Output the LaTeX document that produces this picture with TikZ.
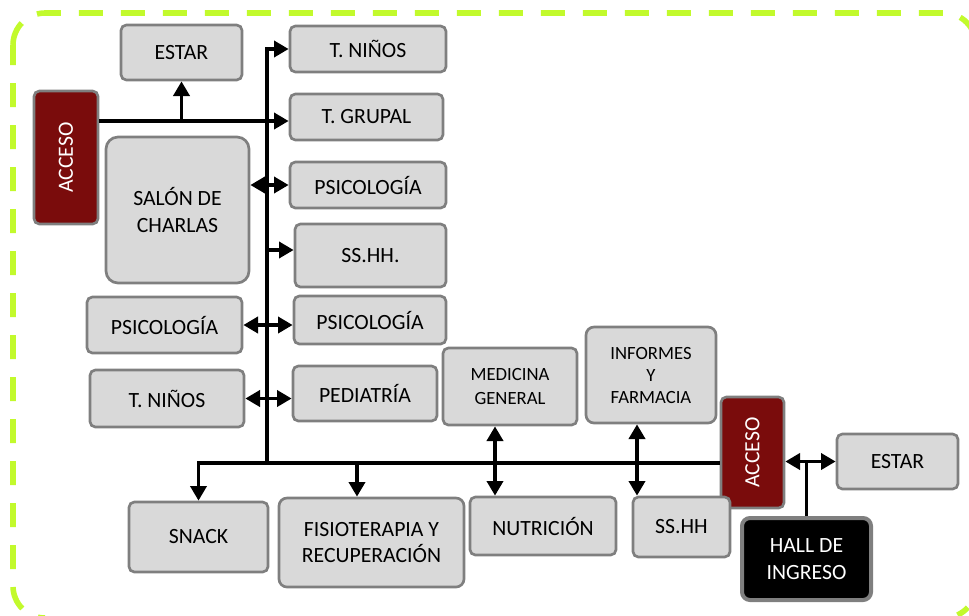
\documentclass[tikz,border=0pt]{standalone}
\usepackage{fontspec}
\setmainfont{Carlito}
\usetikzlibrary{arrows.meta}
\definecolor{boxfill}{RGB}{217,217,217}
\definecolor{boxline}{RGB}{127,127,127}
\definecolor{accred}{RGB}{122,12,12}
\definecolor{framelime}{RGB}{194,250,44}
\begin{document}
\begin{tikzpicture}[x=0.75pt, y=-0.75pt,
  wh/.style 2 args={minimum width=#1*0.75pt, minimum height=#2*0.75pt},
  room/.style={rectangle, rounded corners=4pt, draw=boxline, line width=2pt, fill=boxfill, inner sep=0pt, align=center, font=\fontsize{16.3}{20}\selectfont},
  smallroom/.style={room, font=\fontsize{14}{17.5}\selectfont},
  access/.style={room, fill=accred, text=white},
  hallbox/.style={room, fill=black, text=white, line width=3pt, rounded corners=6pt},
  link/.style={draw=black, line width=2.9pt},
  arr/.style={link, -{Triangle[length=11pt, width=12pt]}},
  darr/.style={link, {Triangle[length=11pt, width=12pt]}-{Triangle[length=11pt, width=12pt]}},
  frame/.style={draw=framelime, line width=4.2pt, rounded corners=24pt, dash pattern=on 18pt off 13.5pt}
]
\useasboundingbox (0,0) rectangle (969,615);
\begin{scope}
\clip (0,0) rectangle (969,615);
\draw[frame, dash phase=24.5pt] (976,45) -- (976,13) -- (13,13) -- (13,45);
\draw[frame, dash phase=3pt] (13,45) -- (13,618) -- (45,618);
\draw[draw=framelime, line width=4.2pt] (944,586) ++(42:32) arc[start angle=42, end angle=65, radius=32];
\end{scope}

\node[room, wh={121}{55}] (estarA) at (181.5, 52.5) {ESTAR};
\node[room, wh={156}{46}] (tninosA) at (368, 49) {T. NIÑOS};
\node[room, wh={153}{46}] (tgrupal) at (366.5, 117) {T. GRUPAL};
\node[access, wh={64}{133}] (accesoA) at (66, 157.5) {\rotatebox{90}{ACCESO}};
\node[room, wh={143}{146}, rounded corners=9pt] (salon) at (177.5, 210) {SALÓN DE\\CHARLAS};
\node[room, wh={156}{46}] (psicoA) at (368, 185) {PSICOLOGÍA};
\node[room, wh={151}{63}] (sshhA) at (370.5, 255.5) {SS.HH.};
\node[room, wh={155}{56}] (psicoL) at (164.5, 325) {PSICOLOGÍA};
\node[room, wh={152}{48}] (psicoB) at (370, 320) {PSICOLOGÍA};
\node[room, wh={154}{57}] (tninosL) at (167, 398.5) {T. NIÑOS};
\node[room, wh={144}{55}] (pediatria) at (365, 393.5) {PEDIATRÍA};
\node[smallroom, wh={134}{77}] (medicina) at (510, 386.5) {MEDICINA\\GENERAL};
\node[smallroom, wh={130}{96}, rounded corners=6pt, font=\fontsize{14}{16.5}\selectfont] (informes) at (651, 375) {INFORMES\\Y\\FARMACIA};
\node[access, wh={63}{111}] (accesoB) at (752.5, 452.5) {\rotatebox{90}{ACCESO}};
\node[room, wh={121}{55}] (estarB) at (897.5, 461.5) {ESTAR};
\node[room, wh={139}{70}] (snack) at (198.5, 537) {SNACK};
\node[room, wh={185}{89}, rounded corners=6pt, font=\fontsize{16.3}{19}\selectfont] (fisio) at (371.5, 542.5) {FISIOTERAPIA Y\\RECUPERACIÓN};
\node[room, wh={146}{58}] (nutricion) at (543, 526) {NUTRICIÓN};
\node[room, wh={97}{60}] (sshhB) at (681.5, 527) {SS.HH};
\node[hallbox, wh={129}{82}] (hall) at (806.5, 559) {HALL DE\\INGRESO};

\coordinate (hub) at (267, 463);
\coordinate (spineTop) at (267, 49);
\coordinate (accJ) at (181.5, 121);
\coordinate (sshhJ) at (267, 250);
\coordinate (fisioJ) at (357, 463);
\coordinate (medJ) at (495, 463);
\coordinate (farmJ) at (637, 463);

\draw[arr] (hub) -- (spineTop) -- (tninosA.west);
\draw[arr] (accesoA.east |- accJ) -- (accJ -| tgrupal.west);
\draw[arr] (accJ) -- (estarA.south);
\draw[darr] (salon.east |- psicoA.west) -- (psicoA.west);
\draw[arr] (sshhJ) -- (sshhJ -| sshhA.west);
\draw[darr] (psicoL.east) -- (psicoL.east -| psicoB.west);
\draw[darr] (tninosL.east) -- (tninosL.east -| pediatria.west);
\draw[arr] (hub -| accesoB.west) -- (snack.north |- hub) -- (snack.north);
\draw[arr] (fisioJ) -- (fisioJ |- fisio.north);
\draw[darr] (medJ |- medicina.south) -- (medJ |- nutricion.north);
\draw[darr] (farmJ |- informes.south) -- (farmJ |- sshhB.north);
\draw[darr] (accesoB.east |- estarB.west) -- (estarB.west);
\draw[link] (hall.north) -- (hall.north |- estarB.west);

\end{tikzpicture}
\end{document}
